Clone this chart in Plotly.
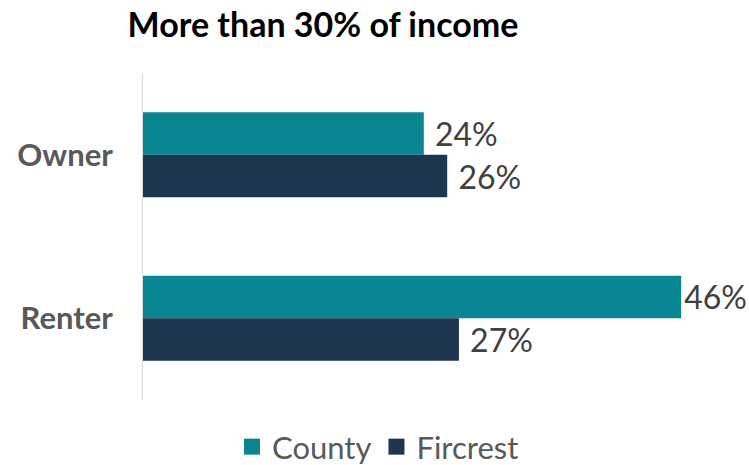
import plotly.graph_objects as go

categories = ["Owner", "Renter"]
county = [0.24, 0.46]
fircrest = [0.26, 0.27]
series_names = ["County", "Fircrest"]
colors = ["#088793", "#1c3550"]

all_vals = county + fircrest
vmax = max(all_vals)

fig = go.Figure()
for name, vals, col in zip(series_names, [county, fircrest], colors):
    fig.add_trace(go.Bar(
        y=categories, x=vals, name=name, orientation="h",
        marker=dict(color=col, line=dict(width=0)),
        text=[("" if v == vmax else " ") + f"{round(v*100)}%" for v in vals],
        textposition="outside", cliponaxis=False, constraintext="none",
        textfont=dict(family="Lato", size=32, color="#404040"),
        showlegend=False,
    ))
    # legend entry with a larger square swatch
    fig.add_trace(go.Scatter(
        x=[None], y=[None], mode="markers", name=name,
        marker=dict(symbol="square", size=16, color=col),
    ))

fig.update_layout(
    width=749, height=465,
    margin=dict(l=143, r=21, t=73, b=65, autoexpand=False),
    barmode="group", bargap=0.48, bargroupgap=0,
    plot_bgcolor="white", paper_bgcolor="white",
    title=dict(text="<b>More than 30% of income</b>", x=323/749, xanchor="center",
               xref="container", y=1-25/465, yanchor="middle",
               font=dict(family="Lato", size=34, color="black")),
    xaxis=dict(range=[0, 0.5], showgrid=False, showticklabels=False, zeroline=False,
               showline=False, fixedrange=True),
    yaxis=dict(autorange="reversed", showline=True, linecolor="#d9d9d9", linewidth=1,
               ticks="", showgrid=False,
               tickfont=dict(family="Lato", size=31, color="#595959", weight="bold"),
               ticklabelstandoff=23),
    legend=dict(orientation="h", x=378/749, xanchor="center", xref="container",
                y=1-447/465, yanchor="middle", yref="container",
                font=dict(family="Lato", size=31, color="#595959"),
                traceorder="normal", itemsizing="trace"),
    showlegend=True,
)
fig.write_html("out.html")
